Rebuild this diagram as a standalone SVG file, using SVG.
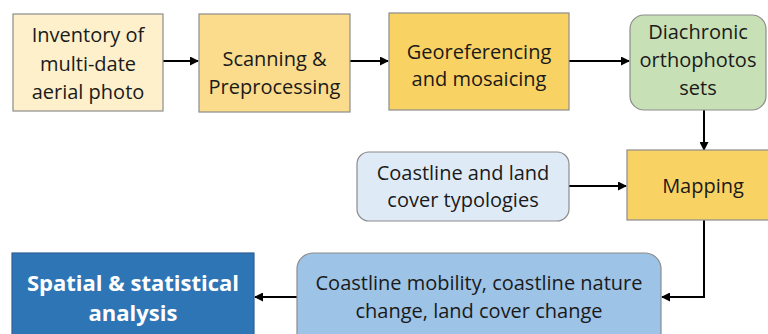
<svg xmlns="http://www.w3.org/2000/svg" width="768" height="334" viewBox="0 0 768 334">
<style>
.box{stroke:#8c8c8c;stroke-width:1.2}
.t{font-family:"Open Sans","Liberation Sans",sans-serif;font-size:20px;fill:#1a1a1a;text-anchor:middle}
.tw{font-family:"Open Sans","Liberation Sans",sans-serif;font-size:22px;font-weight:bold;fill:#ffffff;text-anchor:middle}
.c{fill:none;stroke:#000;stroke-width:2}
</style>
<defs>
<marker id="ah" markerWidth="9" markerHeight="9" refX="8" refY="4.5" orient="auto" markerUnits="userSpaceOnUse">
<path d="M0,0 L9,4.5 L0,9 Z" fill="#000"/>
</marker>
</defs>
<rect width="768" height="334" fill="#ffffff"/>
<g id="connectors">
<line class="c" x1="163" y1="61" x2="198" y2="61" marker-end="url(#ah)"/>
<line class="c" x1="350" y1="61" x2="388" y2="61" marker-end="url(#ah)"/>
<line class="c" x1="569" y1="61" x2="629" y2="61" marker-end="url(#ah)"/>
<line class="c" x1="704" y1="110" x2="704" y2="150" marker-end="url(#ah)"/>
<line class="c" x1="569" y1="186" x2="626" y2="186" marker-end="url(#ah)"/>
<polyline class="c" points="704,220 704,297 662,297" marker-end="url(#ah)"/>
<line class="c" x1="298" y1="297" x2="255" y2="297" marker-end="url(#ah)"/>
</g>
<g id="inventory">
<rect class="box" x="13" y="14" width="150" height="97" fill="#fdf0ca"/>
<text class="t" x="88" y="42">Inventory of</text>
<text class="t" x="88" y="71">multi-date</text>
<text class="t" x="88" y="99">aerial photo</text>
</g>
<g id="scanning">
<rect class="box" x="199" y="14" width="151" height="98" fill="#fbdc8c"/>
<text class="t" x="274.5" y="66">Scanning &amp;</text>
<text class="t" x="274.5" y="94">Preprocessing</text>
</g>
<g id="georef">
<rect class="box" x="389" y="13" width="180" height="97" fill="#f9d264"/>
<text class="t" x="479" y="59">Georeferencing</text>
<text class="t" x="479" y="86">and mosaicing</text>
</g>
<g id="orthophotos">
<rect class="box" x="630" y="15" width="136" height="95" rx="14" fill="#c7e0b5"/>
<text class="t" x="698" y="39">Diachronic</text>
<text class="t" x="698" y="67">orthophotos</text>
<text class="t" x="698" y="95">sets</text>
</g>
<g id="typologies">
<rect class="box" x="357" y="152" width="212" height="69" rx="12" fill="#deebf7"/>
<text class="t" x="463" y="180">Coastline and land</text>
<text class="t" x="463" y="207">cover typologies</text>
</g>
<g id="mapping">
<rect class="box" x="627" y="150" width="152" height="70" fill="#f9d264"/>
<text class="t" x="703" y="193">Mapping</text>
</g>
<g id="change">
<rect class="box" x="297" y="253" width="364" height="100" rx="16" fill="#9dc3e6"/>
<text class="t" x="479" y="290">Coastline mobility, coastline nature</text>
<text class="t" x="479" y="318">change, land cover change</text>
</g>
<g id="analysis">
<rect x="12" y="253" width="242" height="100" fill="#2e75b6" stroke="#2f5f94" stroke-width="1.2"/>
<text class="tw" x="133" y="291">Spatial &amp; statistical</text>
<text class="tw" x="133" y="321">analysis</text>
</g>
</svg>
